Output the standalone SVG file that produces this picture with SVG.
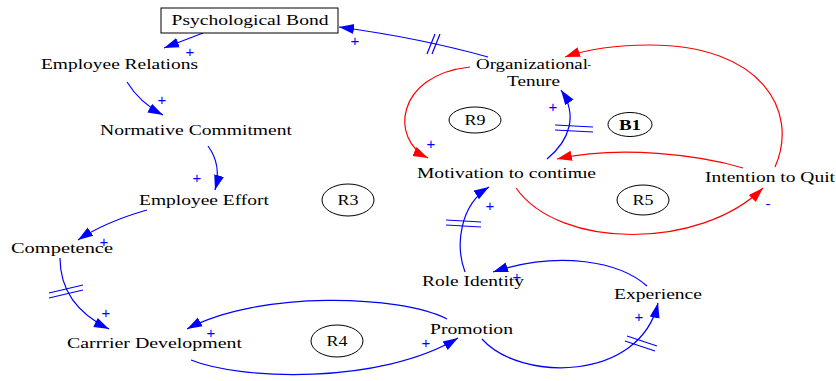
<svg xmlns="http://www.w3.org/2000/svg" width="836" height="381" viewBox="0 0 836 381">
<style>
.t{font-family:"Liberation Serif","Times New Roman",serif;font-size:15px;fill:#000;text-anchor:middle}
.b{fill:none;stroke:#0000ff;stroke-width:1.2}
.r{fill:none;stroke:#ff0000;stroke-width:1.2}
.h{fill:none;stroke:#0000ff;stroke-width:1.2}
.p{font-family:"Liberation Sans",Arial,sans-serif;font-size:15px;fill:#0000ff;text-anchor:middle}
.loop{fill:none;stroke:#000;stroke-width:1}
</style>
<defs>
<marker id="ab" markerUnits="userSpaceOnUse" markerWidth="16" markerHeight="12" refX="15" refY="5" orient="auto" viewBox="0 0 16 10"><path d="M0,0 L15,5 L0,10 z" fill="#0000ff"/></marker>
<marker id="ar" markerUnits="userSpaceOnUse" markerWidth="16" markerHeight="12" refX="15" refY="5" orient="auto" viewBox="0 0 16 10"><path d="M0,0 L15,5 L0,10 z" fill="#ff0000"/></marker>
</defs>
<rect width="836" height="381" fill="#fff"/>

<g id="connectors">
<path class="b" d="M203,33 Q185,40 164,48" marker-end="url(#ab)"/>
<path class="b" d="M127,82 Q140,103 163,115" marker-end="url(#ab)"/>
<path class="b" d="M208,146 Q222,165 215,190" marker-end="url(#ab)"/>
<path class="b" d="M147,210 Q105,222 78,240" marker-end="url(#ab)"/>
<path class="b" d="M60,258 Q60,305 109,329" marker-end="url(#ab)"/>
<path class="b" d="M447,319 C400,295 260,290 187,329" marker-end="url(#ab)"/>
<path class="b" d="M191,360 C240,380 380,385 458,338" marker-end="url(#ab)"/>
<path class="b" d="M482,339 C520,382 640,382 658,303" marker-end="url(#ab)"/>
<path class="b" d="M647,286 C620,262 560,250 493,272" marker-end="url(#ab)"/>
<path class="b" d="M465,272 C455,245 460,205 489,187" marker-end="url(#ab)"/>
<path class="b" d="M488,57 Q420,38 339,27" marker-end="url(#ab)"/>
<path class="b" d="M547,159 C570,140 578,115 561,90" marker-end="url(#ab)"/>
<path class="r" d="M470,67 C395,75 390,140 428,158" marker-end="url(#ar)"/>
<path class="r" d="M775,167 C800,110 760,45 650,45 C610,45 585,50 565,57" marker-end="url(#ar)"/>
<path class="r" d="M743,168 C700,155 620,145 557,159" marker-end="url(#ar)"/>
<path class="r" d="M516,188 C560,250 700,250 763,188" marker-end="url(#ar)"/>
<path class="h" d="M49,293 L83,285 M49,298 L83,290"/>
<path class="h" d="M427,54 L435,34 M432,54 L440,34"/>
<path class="h" d="M555,125 L593,127 M555,130 L593,132"/>
<path class="h" d="M446,220 L481,222 M446,225 L481,227"/>
<path class="h" d="M627,336 L657,346 M625,341 L655,351"/>
</g>

<g id="labels">
<text class="p" x="190" y="57">+</text>
<text class="p" x="162" y="105">+</text>
<text class="p" x="197" y="183">+</text>
<text class="p" x="104" y="247">+</text>
<text class="p" x="106" y="318">+</text>
<text class="p" x="211" y="338">+</text>
<text class="p" x="426" y="348">+</text>
<text class="p" x="639" y="322">+</text>
<text class="p" x="517" y="282">+</text>
<text class="p" x="490" y="211">+</text>
<text class="p" x="355" y="46">+</text>
<text class="p" x="431" y="149">+</text>
<text class="p" x="553" y="112">+</text>
<text class="p" x="578" y="176">-</text>
<text class="p" x="768" y="209">-</text>
<text class="p" x="589" y="68" style="font-size:11px">-</text>
</g>

<g id="psychological-bond">
<rect x="161" y="8" width="177" height="25" fill="#fff" stroke="#000" stroke-width="1"/>
<text class="t" x="250" y="25" textLength="157" lengthAdjust="spacingAndGlyphs">Psychological Bond</text>
</g>
<g id="employee-relations"><text class="t" x="119.5" y="69" textLength="157" lengthAdjust="spacingAndGlyphs">Employee Relations</text></g>
<g id="normative-commitment"><text class="t" x="196" y="135" textLength="192" lengthAdjust="spacingAndGlyphs">Normative Commitment</text></g>
<g id="employee-effort"><text class="t" x="204" y="205" textLength="130" lengthAdjust="spacingAndGlyphs">Employee Effort</text></g>
<g id="competence"><text class="t" x="62" y="253" textLength="102" lengthAdjust="spacingAndGlyphs">Competence</text></g>
<g id="carrier-development"><text class="t" x="154.5" y="348" textLength="175" lengthAdjust="spacingAndGlyphs">Carrrier Development</text></g>
<g id="promotion"><text class="t" x="471.5" y="334" textLength="83" lengthAdjust="spacingAndGlyphs">Promotion</text></g>
<g id="role-identity"><text class="t" x="473" y="286" textLength="102" lengthAdjust="spacingAndGlyphs">Role Identity</text></g>
<g id="experience"><text class="t" x="658" y="299" textLength="88" lengthAdjust="spacingAndGlyphs">Experience</text></g>
<g id="organizational-tenure">
<text class="t" x="532" y="69" textLength="112" lengthAdjust="spacingAndGlyphs">Organizational</text>
<text class="t" x="533.5" y="86" textLength="53" lengthAdjust="spacingAndGlyphs">Tenure</text>
</g>
<g id="motivation-to-continue"><text class="t" x="506.5" y="178" textLength="179" lengthAdjust="spacingAndGlyphs">Motivation to continue</text></g>
<g id="intention-to-quit"><text class="t" x="770" y="182" textLength="130" lengthAdjust="spacingAndGlyphs">Intention to Quit</text></g>

<g id="loop-r9"><ellipse class="loop" cx="475" cy="120" rx="26" ry="13"/><text class="t" x="475" y="125" textLength="21" lengthAdjust="spacingAndGlyphs">R9</text></g>
<g id="loop-b1"><ellipse class="loop" cx="630" cy="124.5" rx="22" ry="12"/><text class="t" x="630" y="130" style="font-weight:bold" textLength="22" lengthAdjust="spacingAndGlyphs">B1</text></g>
<g id="loop-r5"><ellipse class="loop" cx="643" cy="200" rx="26" ry="15"/><text class="t" x="643" y="205" textLength="21" lengthAdjust="spacingAndGlyphs">R5</text></g>
<g id="loop-r3"><ellipse class="loop" cx="348" cy="200" rx="26" ry="16"/><text class="t" x="348" y="205" textLength="21" lengthAdjust="spacingAndGlyphs">R3</text></g>
<g id="loop-r4"><ellipse class="loop" cx="337" cy="341" rx="26" ry="16"/><text class="t" x="337" y="346" textLength="21" lengthAdjust="spacingAndGlyphs">R4</text></g>
</svg>
